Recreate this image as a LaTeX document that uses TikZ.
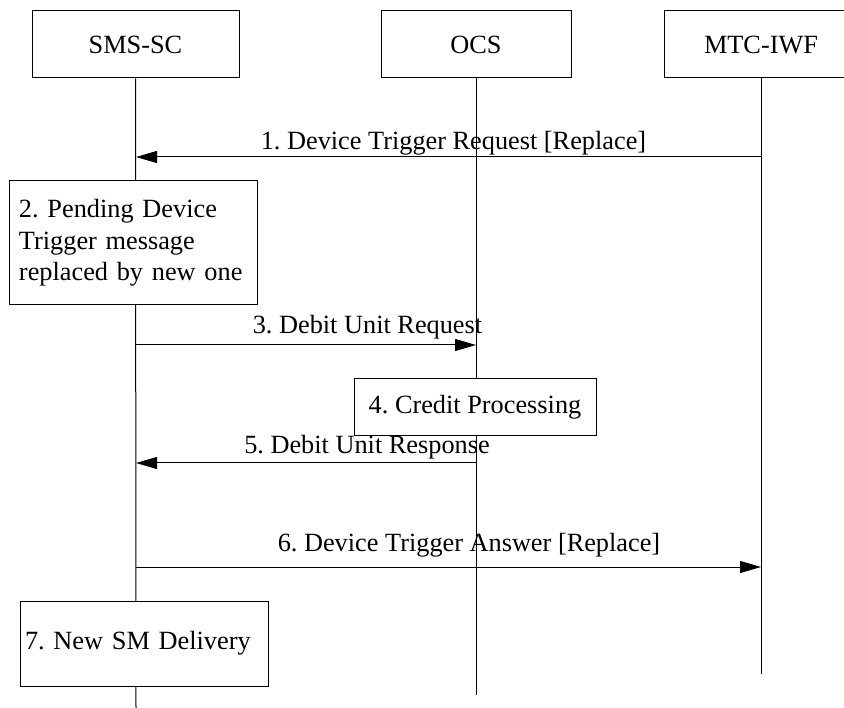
\documentclass[tikz,border=0pt]{standalone}
\usepackage{fontspec}
\setmainfont{Liberation Serif}
\usetikzlibrary{arrows.meta}
\frenchspacing
\begin{document}
\begin{tikzpicture}[x=1pt,y=-1pt,
  txt/.style={font=\fontsize{26.3}{31.5}\selectfont},
  ent/.style={txt, draw, line width=1pt, fill=white, minimum height=67pt, inner sep=0pt},
  actbox/.style={txt, draw, line width=1pt, fill=white, inner sep=0pt},
  lbl/.style={txt, inner sep=0pt},
  life/.style={line width=1pt},
  msg/.style={line width=1pt, -{Triangle[length=21pt,width=12pt]}}]
\useasboundingbox (0,0) rectangle (844,708);
% entities
\node[ent, minimum width=207pt] (sms) at (135.5,44.5) {SMS-SC};
\node[ent, minimum width=190pt] (ocs) at (476,44.5) {OCS};
\node[ent, minimum width=194pt] (mtc) at (761,44.5) {MTC-IWF};
% lifeline ends
\coordinate (sEnd) at (136,708);
\coordinate (oEnd) at (476,695);
\coordinate (mEnd) at (761,674);
\draw[life] (sms.south) -- (sEnd);
\draw[life] (ocs.south) -- (oEnd);
\draw[life] (mtc.south) -- (mEnd);
% message points
\coordinate (s1) at (136,157); \coordinate (m1) at (761,157);
\coordinate (s3) at (136,345); \coordinate (o3) at (476,345);
\coordinate (s5) at (136,463); \coordinate (o5) at (476,463);
\coordinate (s6) at (136,567); \coordinate (m6) at (761,567);
% step 1
\draw[msg] (m1) -- (s1);
\node[lbl] (l1) at (453.5,143) {1. Device Trigger Request [Replace]};
% step 2
\node[actbox, minimum width=248pt, minimum height=124pt, text width=228pt, align=left] (b2) at (133,243)
  {2. Pending Device\\Trigger message\\replaced by new one};
% step 3
\draw[msg] (s3) -- (o3);
\node[lbl] (l3) at (367.5,327) {3. Debit Unit Request};
% step 4
\node[actbox, minimum width=242pt, minimum height=57pt] (b4) at (475,407.5) {4. Credit Processing};
% step 5
\draw[msg] (o5) -- (s5);
\node[lbl] (l5) at (367,447) {5. Debit Unit Response};
% step 6
\draw[msg] (s6) -- (m6);
\node[lbl] (l6) at (469,545) {6. Device Trigger Answer [Replace]};
% step 7
\node[actbox, minimum width=248pt, minimum height=85pt, text width=238pt, align=left] (b7) at (144,643.5) {7. New SM Delivery};
\end{tikzpicture}
\end{document}
